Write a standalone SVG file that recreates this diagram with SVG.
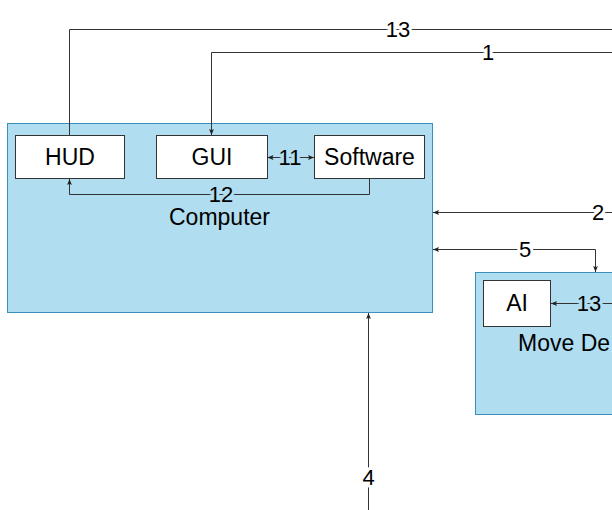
<svg xmlns="http://www.w3.org/2000/svg" width="612" height="510" viewBox="0 0 612 510">
<defs>
<marker id="ah" viewBox="0 0 10 10" refX="10" refY="5" markerWidth="6" markerHeight="6" orient="auto-start-reverse" markerUnits="userSpaceOnUse">
<path d="M0,1 L10,5 L0,9 L2,5 Z" fill="#222"/>
</marker>
<style>
.grp{fill:#b1ddf0;stroke:#3b8fbc;stroke-width:1}
.box{fill:#ffffff;stroke:#333333;stroke-width:1}
.t{font-family:"Liberation Sans",Arial,sans-serif;font-size:23px;fill:#000;text-anchor:middle}
.c{fill:none;stroke:#333;stroke-width:1}
.lw{font-family:"Liberation Sans",Arial,sans-serif;font-size:22px;fill:#000;text-anchor:middle;stroke:#ffffff;stroke-width:6;paint-order:stroke;stroke-linejoin:round}
.lb{font-family:"Liberation Sans",Arial,sans-serif;font-size:22px;fill:#000;text-anchor:middle;stroke:#b1ddf0;stroke-width:6;paint-order:stroke;stroke-linejoin:round}
</style>
</defs>
<g id="computer">
<rect class="grp" x="7.5" y="123.5" width="425" height="189"/>
<text class="t" x="219.5" y="225">Computer</text>
</g>
<g id="movedevice">
<rect class="grp" x="475.5" y="272.5" width="160" height="142"/>
<text class="t" x="518" y="351" style="text-anchor:start">Move De</text>
</g>
<g id="hud">
<rect class="box" x="15.5" y="135.5" width="109" height="43"/>
<text class="t" x="70" y="165">HUD</text>
</g>
<g id="gui">
<rect class="box" x="156.5" y="135.5" width="111" height="43"/>
<text class="t" x="212" y="165">GUI</text>
</g>
<g id="software">
<rect class="box" x="314.5" y="135.5" width="110" height="43"/>
<text class="t" x="369.5" y="165">Software</text>
</g>
<g id="ai">
<rect class="box" x="483.5" y="280.5" width="67" height="46"/>
<text class="t" x="517" y="311">AI</text>
</g>
<g id="connectors">
<path class="c" d="M69.5,135 V29.5 H612"/>
<path class="c" d="M612,52.5 H211.5 V135" marker-end="url(#ah)"/>
<path class="c" d="M267.5,157.5 H314" marker-start="url(#ah)" marker-end="url(#ah)"/>
<path class="c" d="M369.5,179 V194.5 H69.5 V179" marker-end="url(#ah)"/>
<path class="c" d="M612,212.5 H433" marker-end="url(#ah)"/>
<path class="c" d="M433,249.5 H595.5 V272" marker-start="url(#ah)" marker-end="url(#ah)"/>
<path class="c" d="M612,303.5 H551" marker-end="url(#ah)"/>
<path class="c" d="M368.5,510 V313" marker-end="url(#ah)"/>
<text class="lw" x="398" y="37">13</text>
<text class="lw" x="488" y="60">1</text>
<text class="lb" x="290" y="165">11</text>
<text class="lb" x="221" y="202">12</text>
<text class="lw" x="598" y="220">2</text>
<text class="lw" x="525" y="257">5</text>
<text class="lb" x="589" y="311">13</text>
<text class="lw" x="368.5" y="485">4</text>
</g>
</svg>
